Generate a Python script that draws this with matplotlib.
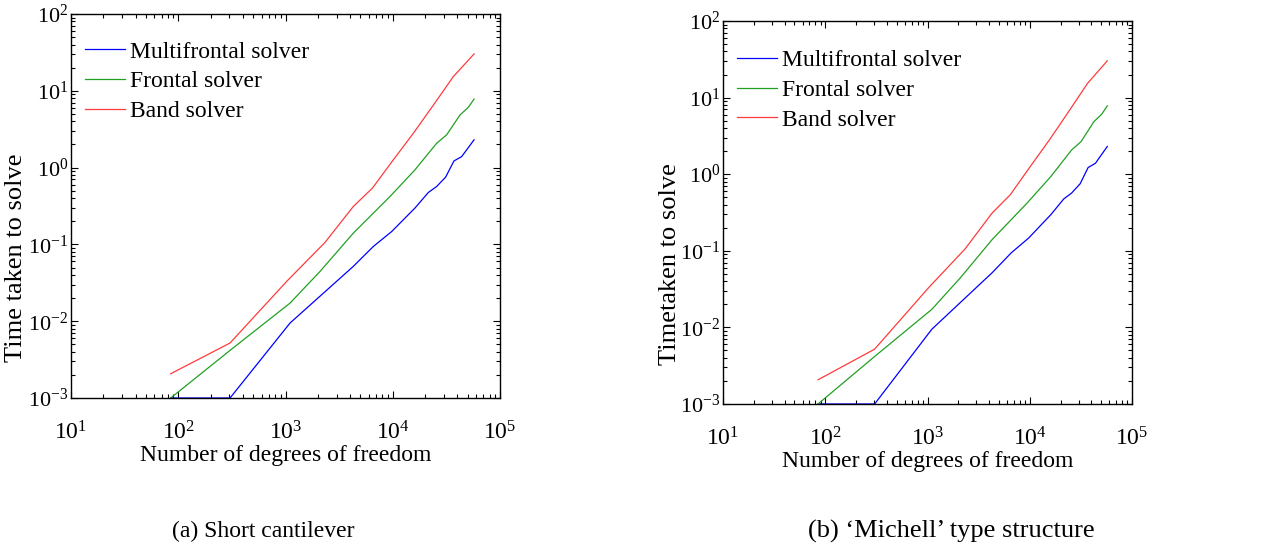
import numpy as np
import matplotlib
matplotlib.use("Agg")
import matplotlib.pyplot as plt
from matplotlib.ticker import LogLocator, LogFormatterMathtext, NullFormatter

plt.rcParams['font.family'] = ['Liberation Serif', 'DejaVu Serif']
plt.rcParams['mathtext.fontset'] = 'custom'
plt.rcParams['mathtext.rm'] = 'Liberation Serif'
plt.rcParams['mathtext.it'] = 'Liberation Serif:italic'
plt.rcParams['axes.unicode_minus'] = False

# Degrees of freedom vs. solve time (s)
dof_multi = [85, 304, 1102, 4285, 6590, 9770, 16100, 21460, 25640, 31100, 37200, 43900, 57300]
t_multi = [0.001, 0.001, 0.00946, 0.0517, 0.094, 0.147, 0.297, 0.474, 0.567, 0.75, 1.22, 1.39, 2.30]

dof_frontal = [85, 304, 1102, 2100, 4285, 9420, 16100, 25640, 31800, 42400, 50700, 57300]
t_frontal = [0.001, 0.00417, 0.0172, 0.0445, 0.140, 0.42, 0.934, 2.07, 2.67, 4.85, 6.1, 7.8]

dof_band = [85, 304, 1026, 2333, 4285, 6457, 10120, 15560, 23900, 36700, 57300]
t_band = [0.00207, 0.0052, 0.033, 0.106, 0.311, 0.54, 1.26, 2.8, 6.5, 15.3, 30.2]

labels = ["Multifrontal solver", "Frontal solver", "Band solver"]
captions = ["(a) Short cantilever", "(b) \u2018Michell\u2019 type structure"]
ylabels = ["Time taken to solve", "Timetaken to solve"]

W, H = 1268, 547
fig = plt.figure(figsize=(W / 100, H / 100), dpi=100)

# axes boxes in pixels: left, bottom(from top), width, height
boxes = [(71, 398, 429, 384), (723, 404, 409, 383)]
leg_anchor = [(0.011, 0.954), (0.011, 0.950)]
cap_x = [263, 951]
cap_size = [17, 19]

for i, (l, b, w, h) in enumerate(boxes):
    ax = fig.add_axes([l / W, (H - b) / H, w / W, h / H])
    ax.plot(dof_multi, t_multi, color="#0000ff", lw=0.9, label=labels[0])
    ax.plot(dof_frontal, t_frontal, color="#22a022", lw=0.9, label=labels[1])
    ax.plot(dof_band, t_band, color="#ff3b3b", lw=0.9, label=labels[2])
    ax.set_xscale("log")
    ax.set_yscale("log")
    ax.set_xlim(1e1, 1e5)
    ax.set_ylim(1e-3, 1e2)
    ax.xaxis.set_major_locator(LogLocator(base=10, numticks=10))
    ax.yaxis.set_major_locator(LogLocator(base=10, numticks=10))
    ax.xaxis.set_major_formatter(LogFormatterMathtext())
    ax.yaxis.set_major_formatter(LogFormatterMathtext())
    ax.xaxis.set_minor_locator(LogLocator(base=10, subs=np.arange(2, 10), numticks=20))
    ax.yaxis.set_minor_locator(LogLocator(base=10, subs=np.arange(2, 10), numticks=20))
    ax.xaxis.set_minor_formatter(NullFormatter())
    ax.yaxis.set_minor_formatter(NullFormatter())
    ax.tick_params(which="both", direction="in", top=True, right=True, width=0.8)
    ax.tick_params(which="major", length=5)
    ax.tick_params(which="minor", length=3)
    ax.tick_params(axis="x", which="major", pad=17, labelsize=17)
    ax.tick_params(axis="y", which="major", pad=2, labelsize=16)
    for s in ax.spines.values():
        s.set_linewidth(1.0)
    ax.set_xlabel("Number of degrees of freedom", fontsize=17, labelpad=0)
    ax.set_ylabel(ylabels[i], fontsize=19)
    ax.yaxis.set_label_coords(-0.102, 0.365)
    ax.legend(loc="upper left", bbox_to_anchor=leg_anchor[i], frameon=False,
              fontsize=17, handlelength=1.7, handletextpad=0.2,
              labelspacing=0.35, borderaxespad=0)
    fig.text(cap_x[i] / W, 1 - 531 / H, captions[i], ha="center", va="center",
             fontsize=cap_size[i])

fig.savefig("out.png", dpi=100)
